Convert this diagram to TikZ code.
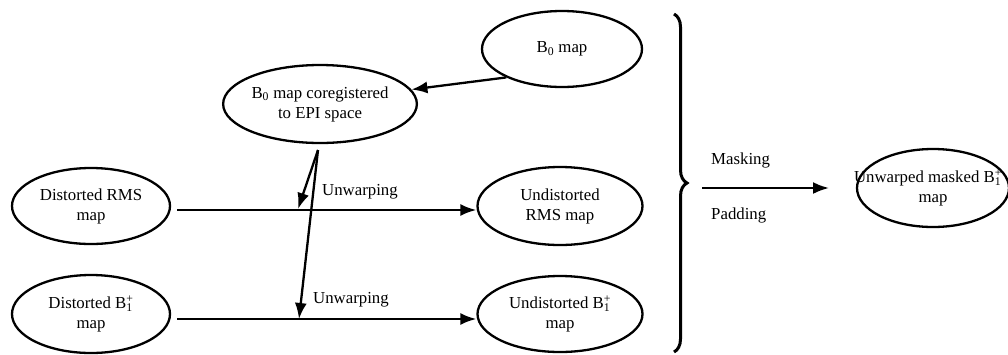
\documentclass[tikz,border=0pt]{standalone}
\usepackage{fontspec}
\setmainfont{Liberation Serif}
\usetikzlibrary{shapes.geometric,arrows.meta,decorations.pathreplacing}
\begin{document}
\begin{tikzpicture}[x=1pt,y=-1pt,
  oval/.style={ellipse,draw,line width=2.3pt,inner sep=0pt,align=center,
    font=\fontsize{16.8}{20}\selectfont},
  conn/.style={line width=2.3pt,-{Latex[length=16pt,width=12pt]}},
  lbl/.style={font=\fontsize{16.8}{20}\selectfont,inner sep=0pt,anchor=west}]
\useasboundingbox (0,0) rectangle (1008,354);
\node[oval,minimum width=160,minimum height=76] (b0) at (562,49) {B\textsubscript{0} map};
\node[oval,minimum width=156,minimum height=78] (coreg) at (320,104) {B\textsubscript{0} map coregistered\\to EPI space};
\node[oval,minimum width=158,minimum height=76] (drms) at (91,206) {Distorted RMS\\map};
\node[oval,minimum width=158,minimum height=78] (db1) at (91,314) {Distorted B\rlap{\textsubscript{1}}\textsuperscript{+}\\map};
\node[oval,minimum width=165,minimum height=78] (urms) at (560,206) {Undistorted\\RMS map};
\node[oval,minimum width=165,minimum height=76] (ub1) at (560,314) {Undistorted B\rlap{\textsubscript{1}}\textsuperscript{+}\\map};
\node[oval,minimum width=152,minimum height=78] (uw) at (933,188) {\makebox[0pt]{\hspace*{-10pt}Unwarped masked B\rlap{\textsubscript{1}}\textsuperscript{+}}\\map};
\draw[conn] (b0.207) -- (coreg.9);
\draw[conn] ([shift={(6pt,-4pt)}]drms.east) -- ([yshift=-4pt]urms.west);
\draw[conn] ([shift={(6pt,-5pt)}]db1.east) -- ([yshift=-5pt]ub1.west);
\coordinate (s) at (318,150);
\coordinate (j1) at (298,209);
\coordinate (j2) at (299,319);
\draw[conn] (s) -- (j1);
\draw[conn] (s) -- (j2);
\node[lbl] (u1) at (322,192) {Unwarping};
\node[lbl] (u2) at (313,300) {Unwarping};
\draw[line width=3pt,decorate,decoration={brace,amplitude=13pt}] (674,14) -- (674,352);
\coordinate (m1) at (702,188);
\draw[conn] (m1) -- (829,188);
\node[lbl] (mask) at (711,160) {Masking};
\node[lbl] (pad) at (711,215) {Padding};
\end{tikzpicture}
\end{document}
